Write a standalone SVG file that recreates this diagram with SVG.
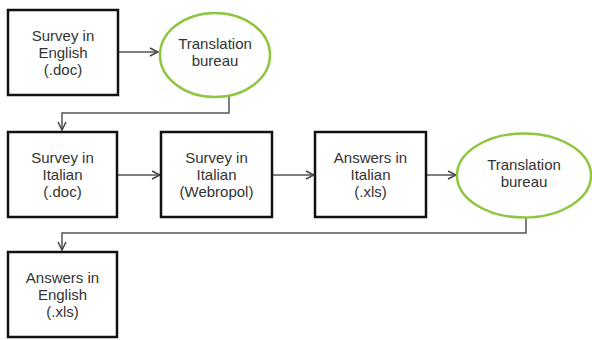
<svg xmlns="http://www.w3.org/2000/svg" width="592" height="340" viewBox="0 0 592 340">
  <defs>
    <marker id="arrow" viewBox="0 0 10 10" refX="9" refY="5" markerWidth="10" markerHeight="10" markerUnits="userSpaceOnUse" orient="auto">
      <path d="M1,1 L9,5 L1,9" fill="none" stroke="#444" stroke-width="1.5"/>
    </marker>
    <style>
      .box { fill: #fff; stroke: #111; stroke-width: 2.5; }
      .bureau { fill: #fff; stroke: #8dc63f; stroke-width: 2.5; }
      .label { font-family: "Liberation Sans", Arial, sans-serif; font-size: 15px; fill: #333; text-anchor: middle; }
      .link { fill: none; stroke: #555; stroke-width: 1.5; marker-end: url(#arrow); }
    </style>
  </defs>
  <rect width="592" height="340" fill="#fff"/>

  <g id="connectors">
    <path class="link" d="M118,52 H158"/>
    <path class="link" d="M229,96 V113 H62 V130"/>
    <path class="link" d="M117,175 H160"/>
    <path class="link" d="M272,175 H314"/>
    <path class="link" d="M426,175 H456"/>
    <path class="link" d="M526,217 V233 H62 V250"/>
  </g>

  <g id="survey-english">
    <rect class="box" x="8" y="10" width="110" height="85"/>
    <text class="label" x="63" y="41">Survey in</text>
    <text class="label" x="63" y="58">English</text>
    <text class="label" x="63" y="75">(.doc)</text>
  </g>

  <g id="bureau-1">
    <ellipse class="bureau" cx="215" cy="55" rx="55" ry="42"/>
    <text class="label" x="215" y="49">Translation</text>
    <text class="label" x="215" y="66">bureau</text>
  </g>

  <g id="survey-italian-doc">
    <rect class="box" x="8" y="132" width="109" height="85"/>
    <text class="label" x="62.5" y="163">Survey in</text>
    <text class="label" x="62.5" y="180">Italian</text>
    <text class="label" x="62.5" y="197">(.doc)</text>
  </g>

  <g id="survey-italian-webropol">
    <rect class="box" x="161" y="132" width="111" height="85"/>
    <text class="label" x="216.5" y="163">Survey in</text>
    <text class="label" x="216.5" y="180">Italian</text>
    <text class="label" x="216.5" y="197">(Webropol)</text>
  </g>

  <g id="answers-italian">
    <rect class="box" x="315" y="132" width="111" height="85"/>
    <text class="label" x="370.5" y="163">Answers in</text>
    <text class="label" x="370.5" y="180">Italian</text>
    <text class="label" x="370.5" y="197">(.xls)</text>
  </g>

  <g id="bureau-2">
    <ellipse class="bureau" cx="524" cy="175.5" rx="67" ry="42"/>
    <text class="label" x="524" y="170">Translation</text>
    <text class="label" x="524" y="187">bureau</text>
  </g>

  <g id="answers-english">
    <rect class="box" x="8" y="252" width="109" height="85"/>
    <text class="label" x="62.5" y="283">Answers in</text>
    <text class="label" x="62.5" y="300">English</text>
    <text class="label" x="62.5" y="317">(.xls)</text>
  </g>
</svg>
